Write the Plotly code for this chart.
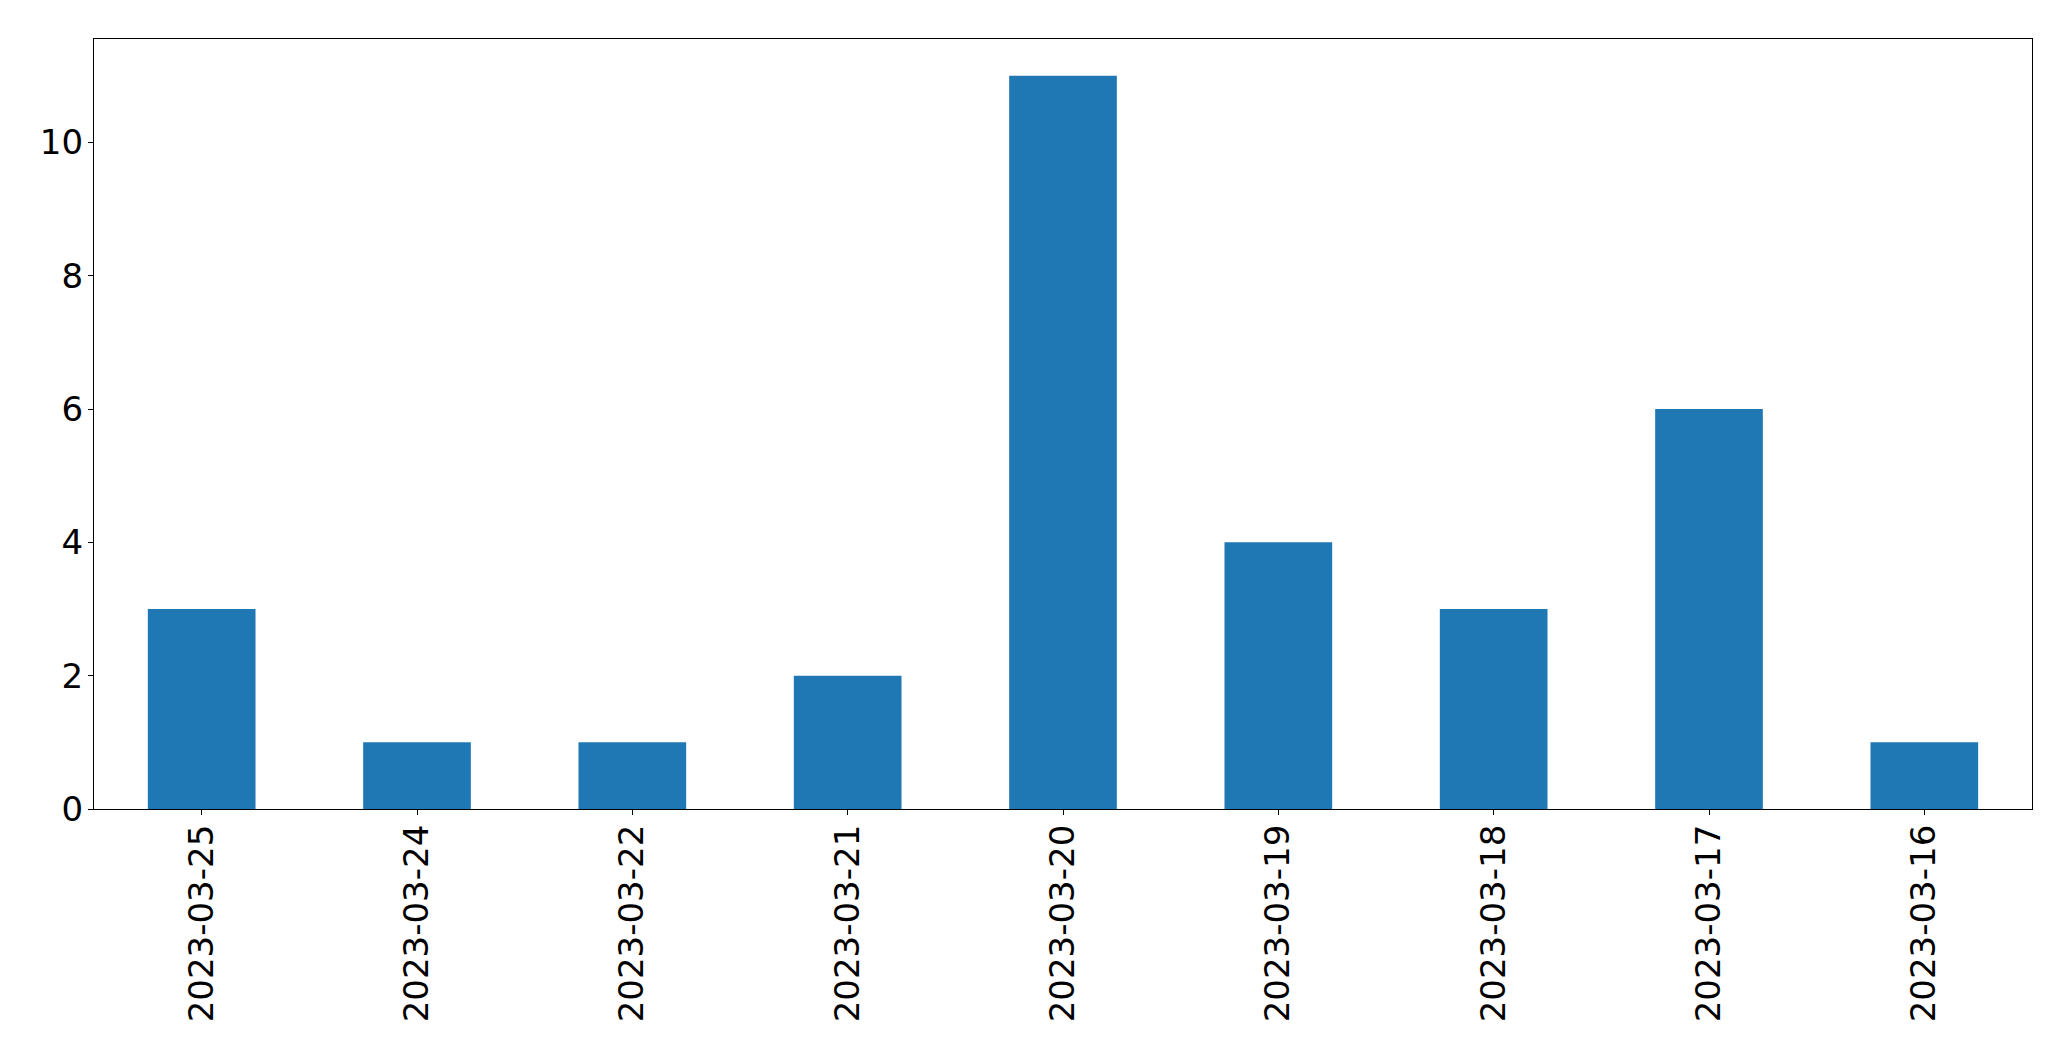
import plotly.graph_objects as go

dates = ["2023-03-25", "2023-03-24", "2023-03-22", "2023-03-21", "2023-03-20",
         "2023-03-19", "2023-03-18", "2023-03-17", "2023-03-16"]
counts = [3, 1, 1, 2, 11, 4, 3, 6, 1]

fig = go.Figure(go.Bar(x=dates, y=counts, marker=dict(color="#1f77b4", line=dict(width=0)), width=0.5))

axis_common = dict(
    showgrid=False, zeroline=False, showline=True, linecolor="black", linewidth=1.3,
    mirror=True, ticks="outside", ticklen=5, tickwidth=1.3, tickcolor="black",
    tickfont=dict(family="DejaVu Sans", size=34, color="black"),
)
fig.update_xaxes(type="category", range=[-0.5, 8.5], tickangle=-90, ticklabelstandoff=-4, **axis_common)
fig.update_yaxes(range=[0, 11.55], tickvals=[0, 2, 4, 6, 8, 10], ticklabelstandoff=-2, **axis_common)

fig.update_layout(
    width=2063, height=1053,
    margin=dict(l=86, r=39, t=31, b=252),
    paper_bgcolor="white", plot_bgcolor="white",
    showlegend=False,
    font=dict(family="DejaVu Sans", color="black"),
)
fig.write_html("out.html")
